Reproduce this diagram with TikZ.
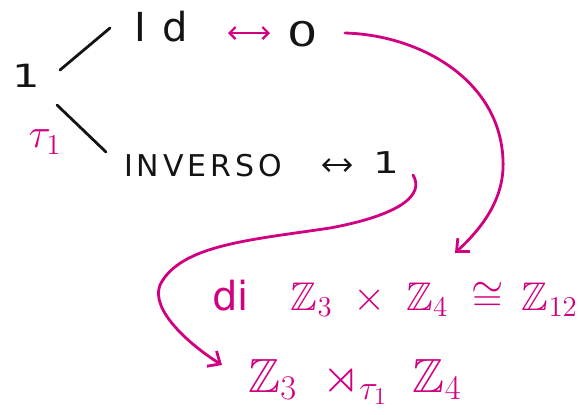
\documentclass[tikz,border=0pt]{standalone}
\usepackage{amsmath,amssymb}
\usepackage{fontspec}
\setmainfont{DejaVu Sans}
\newfontfamily\handwide[LetterSpace=40]{DejaVu Sans}
\newfontfamily\handcaps[LetterSpace=13]{DejaVu Sans}
\usetikzlibrary{arrows.meta,positioning,calc}
\definecolor{hwInk} {HTML}{141414}
\definecolor{hwPink}{HTML}{D10080}

\begin{document}
\begin{tikzpicture}[x=0.5pt,y=-0.5pt,
    lbl/.style={text=hwInk,inner sep=0pt},
    mag/.style={text=hwPink,inner sep=0pt},
    stroke/.style={draw=hwInk,line width=1.4pt,line cap=round},
    swap/.style={line width=1.1pt,line cap=round,
      {Straight Barb[length=3pt,width=6pt]}-{Straight Barb[length=3pt,width=6pt]}},
    pinkcurve/.style={draw=hwPink,line width=1.4pt,line cap=round,
      -{Straight Barb[length=5pt,width=9pt]}}]
  \useasboundingbox (0,0) rectangle (579,414);

  % the two branches
  \node[lbl,font=\fontsize{16}{17}\selectfont] (one) at (26,76) {\scalebox{1.35}[1]{1}};
  \node[lbl,font=\fontsize{20}{21}\selectfont\handwide] (id) at (161,27) {Id};
  \node[lbl,font=\fontsize{17}{18}\selectfont] (zero) at (303,34) {\scalebox{1.4}[1]{0}};
  \node[lbl,font=\fontsize{15}{16}\selectfont\handcaps] (inv) at (203,166) {INVERSO};
  \node[lbl,font=\fontsize{15}{16}\selectfont] (invone) at (386,163) {\scalebox{1.35}[1]{1}};
  \node[mag,font=\fontsize{20}{21}\selectfont] (tau) at (45,142) {$\tau_1$};

  \draw[stroke] ($(one)+(34,-6)$) -- ($(id)+(-51,1)$);
  \draw[stroke] ($(one)+(31,29)$) -- ($(inv)+(-97,-14)$);
  \draw[swap,hwPink] ($(id)+(67,6)$) -- ($(zero)+(-33,-1)$);
  \draw[swap,hwInk] ($(inv)+(119,-1)$) -- ($(invone)+(-34,2)$);

  % groups
  \node[mag,anchor=west,font=\fontsize{20}{22}\selectfont] (prod) at (212,298)
    {di\hspace{21pt}$\mathbb{Z}_3\;\times\;\mathbb{Z}_4\;\cong\,\mathbb{Z}_{12}$};
  \node[mag,anchor=west,font=\fontsize{24}{26}\selectfont] (semi) at (248,382)
    {$\mathbb{Z}_3\;\rtimes_{\tau_1}\;\mathbb{Z}_4$};

  \draw[pinkcurve] ($(zero)+(42,-1)$) .. controls (420,35) and (500,80) .. (503,160)
    .. controls (505,200) and (480,230) .. ($(prod.west)+(243,-45)$);
  \draw[pinkcurve] ($(invone)+(27,12)$) .. controls (425,195) and (400,215) .. (330,228)
    .. controls (250,240) and (180,245) .. (160,285)
    .. controls (150,310) and (190,345) .. ($(semi.west)+(-26,-17)$);
\end{tikzpicture}
\end{document}
